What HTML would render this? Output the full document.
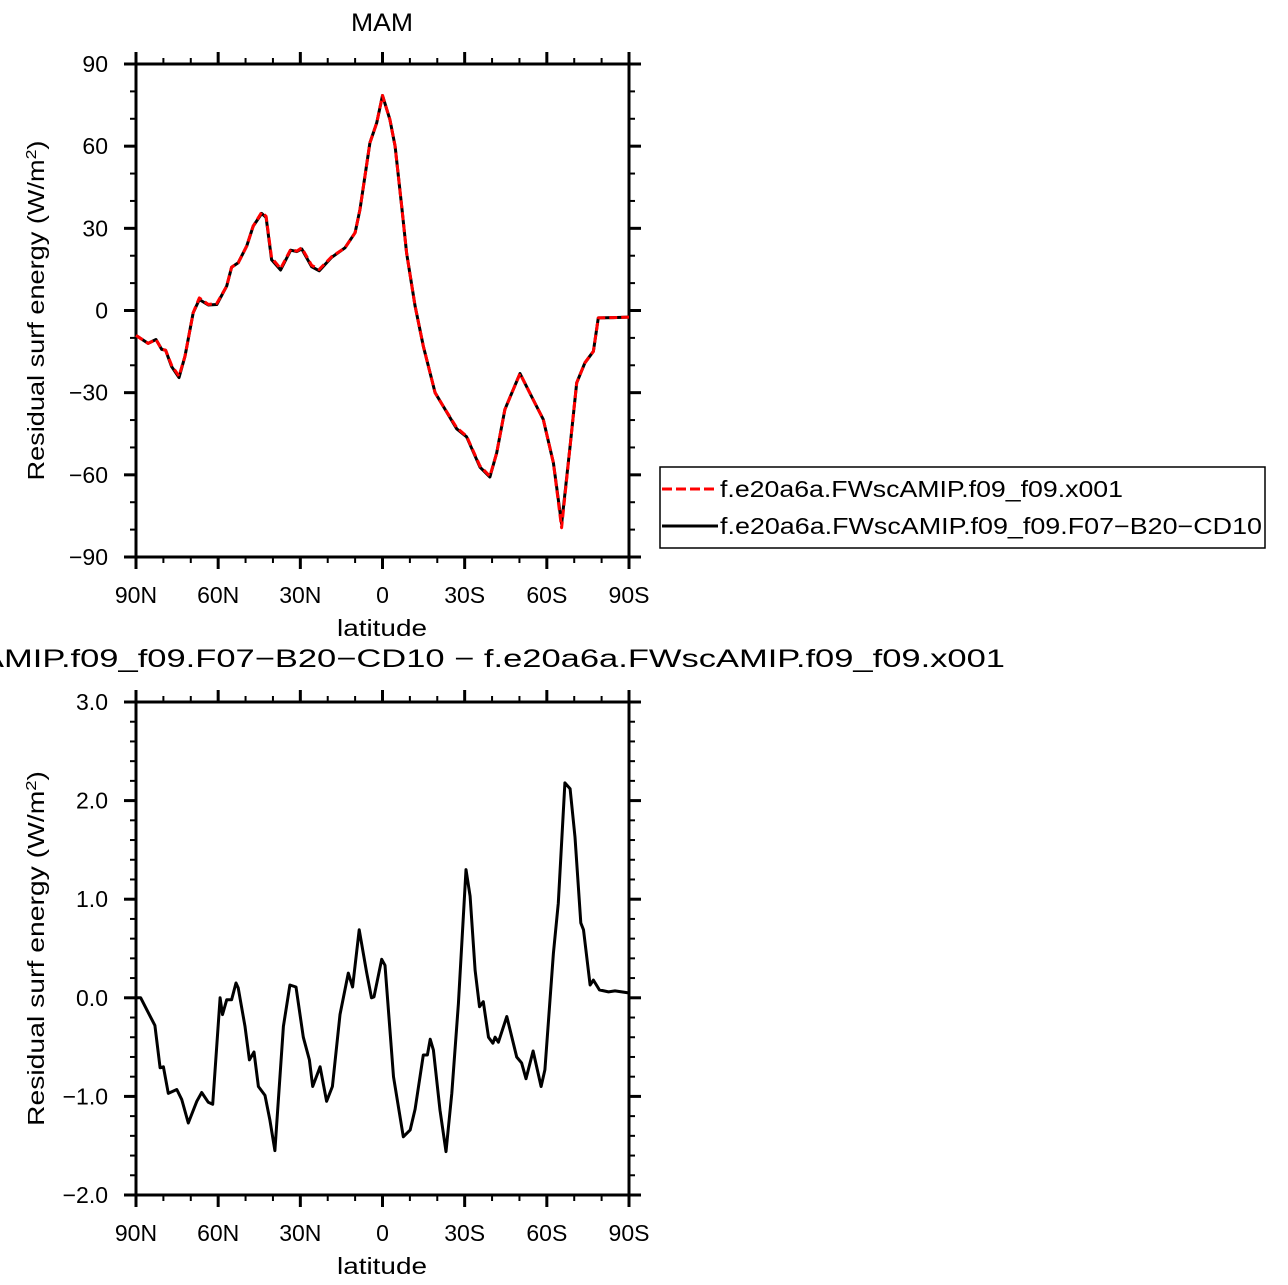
<!DOCTYPE html>
<html><head><meta charset="utf-8"><style>
html,body{margin:0;padding:0;background:#fff;}
svg{display:block;font-family:"Liberation Sans",sans-serif;}
</style></head><body>
<svg id="chart" width="1288" height="1285" viewBox="0 0 1288 1285" xmlns="http://www.w3.org/2000/svg"></svg>
<script>
// Top panel data (latitude, value W/m2)
const topLats = [90,85.6,82.7,80.6,79.2,77,74.3,72.1,69.1,66.9,63.6,60.5,56.9,55.1,52.7,49.6,47.2,44.1,42.5,40.5,37.2,33.5,31.3,29.5,25.9,23.1,18.6,13.7,10,8.2,4.6,2.1,0,-2.7,-4.6,-7,-8.8,-11.9,-14.9,-19.2,-22.2,-27.1,-30.7,-35.6,-39.2,-41.7,-44.7,-50.2,-55,-58.7,-62.4,-65.4,-68.5,-70.9,-73.9,-77,-78.8,-84.2,-90];
const topValsA = [-9.1,-12,-10.6,-14.2,-14.5,-20,-24,-16.7,-0.8,4.6,2.2,2.6,8.9,15.8,17.4,23.5,30.8,35.9,34.4,19.2,15.3,22.3,21.7,22.9,16.5,15,19.6,22.9,28.4,36.9,61.2,68.5,78.5,69.7,60,38,21,1.6,-13,-30,-35,-42.8,-45.9,-56.8,-60.5,-52,-36.1,-23,-32.5,-39.8,-55.6,-79.3,-49.5,-26.4,-19.1,-14.9,-2.7,-2.6,-2.4];
const topValsB = [-9.1,-12,-10.6,-14.2,-14.5,-20.5,-24.5,-16.7,-0.8,4,2,2.2,8.9,15.8,17.4,23.5,30.8,35.4,34,18.5,14.8,22,21.5,22.5,16,14.5,19.4,22.9,28.4,36.9,61.2,68.5,78.5,69.7,60,38,21,1.6,-13,-30,-35,-43.2,-46.1,-57.2,-60.8,-52,-36.1,-23,-32.5,-39.8,-55.6,-78,-49.5,-26.4,-19.1,-14.9,-2.7,-2.6,-2.4];
// Bottom panel data (difference)
const botLats = [89.8,88.3,86.1,83.1,81.2,80,78.2,75.1,73.3,70.9,67.8,66,63.6,62,59.3,58.4,56.9,55.1,53.5,52.7,50.2,48.6,46.9,45.3,42.9,41.1,39.3,36.2,33.8,31.6,28.9,26.7,25.5,22.8,20.4,18.3,15.5,12.5,10.9,8.5,5.8,4,3.1,0.3,-0.9,-4,-7.6,-10.1,-11.9,-14.9,-16.4,-17.4,-18.6,-21,-23.2,-25.3,-27.7,-30.5,-32,-33.8,-35.4,-36.8,-38.7,-40.3,-41.1,-42.3,-45.4,-49,-50.8,-52.4,-55,-57.9,-59.3,-62.4,-64.2,-66.6,-68.5,-70.3,-72.4,-73.4,-75.8,-77,-79.2,-82.5,-84.9,-89.8];
const botVals = [0,0,-0.12,-0.28,-0.71,-0.7,-0.97,-0.93,-1.03,-1.27,-1.05,-0.96,-1.06,-1.08,0,-0.17,-0.02,-0.02,0.15,0.1,-0.29,-0.63,-0.55,-0.9,-0.99,-1.24,-1.55,-0.29,0.13,0.11,-0.4,-0.63,-0.9,-0.7,-1.05,-0.9,-0.17,0.25,0.11,0.69,0.26,0,0.01,0.39,0.33,-0.8,-1.41,-1.34,-1.13,-0.58,-0.58,-0.42,-0.53,-1.14,-1.56,-0.97,-0.06,1.3,1.03,0.28,-0.09,-0.04,-0.4,-0.46,-0.4,-0.45,-0.19,-0.6,-0.66,-0.82,-0.54,-0.9,-0.73,0.45,0.96,2.18,2.12,1.63,0.76,0.69,0.13,0.18,0.08,0.06,0.07,0.05];
const xTickVals = [90,60,30,0,-30,-60,-90];
const xTickLabels = ["90N","60N","30N","0","30S","60S","90S"];
const topYTicks = [90,60,30,0,-30,-60,-90];
const topYLabels = ["90","60","30","0","\u221230","\u221260","\u221290"];
const botYTicks = [3,2,1,0,-1,-2];
const botYLabels = ["3.0","2.0","1.0","0.0","\u22121.0","\u22122.0"];

const NS="http://www.w3.org/2000/svg";
const svg=document.getElementById('chart');
function el(tag,attrs,parent){const e=document.createElementNS(NS,tag);for(const k in attrs)e.setAttribute(k,attrs[k]);(parent||svg).appendChild(e);return e;}
const X0=136,X1=629;
function xs(lat){return X0+(90-lat)/180*(X1-X0);}

function panel(name,top,bot,ymin,ymax,yt,yl,minorStep,titleLen){
  const g=el('g',{});
  
  
  const ys=v=>bot-(v-ymin)/(ymax-ymin)*(bot-top);
  const fr=el('rect',{x:X0,y:top,width:X1-X0,height:bot-top,fill:'none',stroke:'#000','stroke-width':3},g);
  
  
  for(let lat=90;lat>=-90;lat-=10){
    const major=lat%30===0, L=major?12:6, x=xs(lat);
    el('line',{x1:x,y1:bot,x2:x,y2:bot+L,stroke:'#000','stroke-width':major?3:2},g);
    el('line',{x1:x,y1:top,x2:x,y2:top-L,stroke:'#000','stroke-width':major?3:2},g);
  }
  xTickVals.forEach((v,i)=>{
    const t=el('text',{x:xs(v),y:bot+46,'font-size':23,'text-anchor':'middle'},g);
    t.textContent=xTickLabels[i];
    
    
  });
  const n=Math.round((ymax-ymin)/minorStep);
  for(let i=0;i<=n;i++){
    const v=ymin+i*minorStep, y=ys(v);
    const major=yt.some(t=>Math.abs(t-v)<1e-6), L=major?12:6;
    el('line',{x1:X0,y1:y,x2:X0-L,y2:y,stroke:'#000','stroke-width':major?3:2},g);
    el('line',{x1:X1,y1:y,x2:X1+L,y2:y,stroke:'#000','stroke-width':major?3:2},g);
  }
  yt.forEach((v,i)=>{
    const t=el('text',{x:108,y:ys(v)+8,'font-size':23,'text-anchor':'end'},g);
    t.textContent=yl[i];
    
    
  });
  const xt=el('text',{x:382,y:bot+79,'font-size':23,'text-anchor':'middle',textLength:90,lengthAdjust:'spacingAndGlyphs'},g);
  xt.textContent='latitude';
  
  
  const cy=(top+bot)/2;
  const yt2=el('text',{x:44,y:cy,'font-size':23,'text-anchor':'middle',textLength:titleLen,lengthAdjust:'spacingAndGlyphs',transform:`rotate(-90 44 ${cy})`},g);
  yt2.innerHTML='Residual  surf  energy  (W/m<tspan baseline-shift="super" font-size="15">2</tspan>)';
  
  
  return ys;
}
function line(lats,vals,ys,attrs,name){
  const d=lats.map((l,i)=>(i?'L':'M')+xs(l).toFixed(1)+' '+ys(vals[i]).toFixed(1)).join(' ');
  const p=el('path',Object.assign({d:d,fill:'none','stroke-linejoin':'round'},attrs));
  
  
}
const ysT=panel('top',64,557,-90,90,topYTicks,topYLabels,10,340);
line(topLats,topValsB,ysT,{stroke:'#000','stroke-width':3},'series-F07-B20-CD10');
line(topLats,topValsA,ysT,{stroke:'#f00','stroke-width':3,'stroke-dasharray':'8 4'},'series-x001');
const ysB=panel('bottom',702,1195,-2,3,botYTicks,botYLabels,0.2,355);
line(botLats,botVals,ysB,{stroke:'#000','stroke-width':3},'series-difference');

const t1=el('text',{x:382,y:31,'font-size':25,'text-anchor':'middle',textLength:62,lengthAdjust:'spacingAndGlyphs'});
t1.textContent='MAM';


const t2=el('text',{x:1005,y:667,'font-size':25,'text-anchor':'end',textLength:1256,lengthAdjust:'spacingAndGlyphs'});
t2.textContent='f.e20a6a.FWscAMIP.f09_f09.F07\u2212B20\u2212CD10  \u2212  f.e20a6a.FWscAMIP.f09_f09.x001';



const lg=el('g',{});


el('rect',{x:660,y:467,width:605,height:81,fill:'#fff',stroke:'#000','stroke-width':1.5},lg);
el('line',{x1:662,y1:489,x2:718,y2:489,stroke:'#f00','stroke-width':3,'stroke-dasharray':'10 4'},lg);
el('line',{x1:662,y1:526,x2:718,y2:526,stroke:'#000','stroke-width':3},lg);
const l1=el('text',{x:720,y:497,'font-size':23,textLength:403,lengthAdjust:'spacingAndGlyphs'},lg);
l1.textContent='f.e20a6a.FWscAMIP.f09_f09.x001';


const l2=el('text',{x:720,y:534,'font-size':23,textLength:542,lengthAdjust:'spacingAndGlyphs'},lg);
l2.textContent='f.e20a6a.FWscAMIP.f09_f09.F07\u2212B20\u2212CD10';


</script>
</body></html>
